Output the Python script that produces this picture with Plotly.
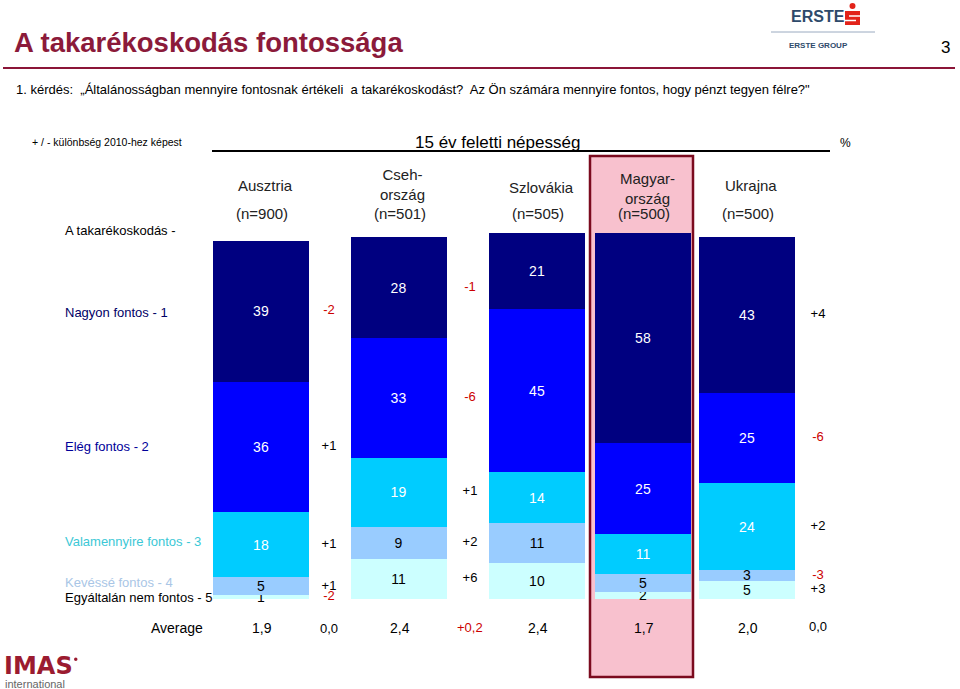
import numpy as np
import plotly.graph_objects as go

W, H = 960, 689

# ---------------- data ----------------
countries = ["Ausztria", "Csehország", "Szlovákia", "Magyarország", "Ukrajna"]
header_top = ["Ausztria", "Cseh-<br>ország", "Szlovákia", "Magyar-<br>ország", "Ukrajna"]
sample_n = ["(n=900)", "(n=501)", "(n=505)", "(n=500)", "(n=500)"]

categories = ["Nagyon fontos - 1", "Elég fontos - 2", "Valamennyire fontos - 3",
              "Kevéssé fontos - 4", "Egyáltalán nem fontos - 5"]

nagyon = [39, 28, 21, 58, 43]
eleg = [36, 33, 45, 25, 25]
valamennyire = [18, 19, 14, 11, 24]
kevesse = [5, 9, 11, 5, 3]
egyaltalan = [1, 11, 10, 2, 5]

averages = ["1,9", "2,4", "2,4", "1,7", "2,0"]

# changes vs 2010 (only for Ausztria, Csehország, Ukrajna)
change_countries = ["Ausztria", "Csehország", "Ukrajna"]
chg_nagyon = ["-2", "-1", "+4"]
chg_eleg = ["+1", "-6", "-6"]
chg_valamennyire = ["+1", "+1", "+2"]
chg_kevesse = ["+1", "+2", "-3"]
chg_egyaltalan = ["-2", "+6", "+3"]
chg_average = ["0,0", "+0,2", "0,0"]

# ---------------- layout helpers (positions / styles) ----------------
bar_x = [261, 398.5, 537, 643, 747]
chg_x = [329, 470, 818]
bar_w = 96
px_per_unit = 3.62
base_px = 599

colors = ["#000080", "#0000FF", "#00CCFF", "#99CCFF", "#CCFFFF"]
text_cols = ["white", "white", "white", "black", "black"]
label_cols = ["#000066", "#000099", "#3CC8D6", "#A9C6E6", "#000000"]
RED = "#CC0000"
FONT = "Arial, Liberation Sans, sans-serif"

def X(p):
    return p / W

def Y(p):
    return 1 - p / H

series = [nagyon, eleg, valamennyire, kevesse, egyaltalan]
chg_series = [chg_nagyon, chg_eleg, chg_valamennyire, chg_kevesse, chg_egyaltalan]
cidx = [countries.index(c) for c in change_countries]

fig = go.Figure()

# stacked from bottom: add last category first
for k in reversed(range(5)):
    vals = series[k]
    fig.add_trace(go.Bar(
        x=bar_x, y=vals, width=bar_w,
        marker=dict(color=colors[k], line=dict(width=0)),
        text=[str(v) for v in vals], textposition="inside",
        insidetextanchor="middle", textangle=0, constraintext="none",
        textfont=dict(family=FONT, size=14, color=text_cols[k]),
        hoverinfo="skip", showlegend=False, cliponaxis=False,
    ))

# change labels at the centre of each segment (from stacked data)
stack = np.array([egyaltalan, kevesse, valamennyire, eleg, nagyon], dtype=float)  # bottom -> top
bottoms = np.vstack([np.zeros(5), np.cumsum(stack, axis=0)[:-1]])
centres = bottoms + stack / 2  # rows bottom->top
for k in range(5):
    row = 4 - k
    ys = [centres[row, i] for i in cidx]
    txt = chg_series[k]
    fig.add_trace(go.Scatter(
        x=chg_x, y=ys, mode="text", text=txt,
        textfont=dict(family=FONT, size=13,
                      color=[RED if t.startswith("-") else "black" for t in txt]),
        hoverinfo="skip", showlegend=False, cliponaxis=False,
    ))

y_lo = (base_px - H) / px_per_unit
y_hi = base_px / px_per_unit

fig.update_layout(
    width=W, height=H, barmode="stack",
    margin=dict(l=0, r=0, t=0, b=0),
    paper_bgcolor="white", plot_bgcolor="rgba(0,0,0,0)",
    xaxis=dict(range=[0, W], visible=False, fixedrange=True),
    yaxis=dict(range=[y_lo, y_hi], visible=False, fixedrange=True),
    uniformtext=dict(mode="show", minsize=14),
    font=dict(family=FONT),
)

shapes = []
ann = []

def text(x, y, s, size=13, color="black", xanchor="center", bold=False, yanchor="middle", family=FONT):
    if bold:
        s = "<b>" + s + "</b>"
    ann.append(dict(x=X(x), y=Y(y), xref="paper", yref="paper", text=s,
                    showarrow=False, xanchor=xanchor, yanchor=yanchor,
                    font=dict(family=family, size=size, color=color)))

# highlight for Magyarország
shapes.append(dict(type="rect", xref="paper", yref="paper",
                   x0=X(590), x1=X(693), y0=Y(677), y1=Y(156),
                   fillcolor="#F8C1CE", line=dict(color="#7B0A1E", width=2.5),
                   layer="below"))

# title
text(12, 43, "A takarékoskodás fontossága", size=27.5, color="#8B1A3A", xanchor="left", bold=True)
text(952, 47, "3", size=17, xanchor="right")
shapes.append(dict(type="line", xref="paper", yref="paper", x0=X(3), x1=X(955),
                   y0=Y(68), y1=Y(68), line=dict(color="#8B1538", width=2)))
text(14, 89, "1. kérdés:  „Általánosságban mennyire fontosnak értékeli  a takarékoskodást?  "
     "Az Ön számára mennyire fontos, hogy pénzt tegyen félre?\"", size=13, xanchor="left")

# ERSTE logo
text(789, 16, "ERSTE", size=16, color="#2E4A6B", bold=True, xanchor="left")
shapes.append(dict(type="circle", xref="paper", yref="paper", x0=X(849.5), x1=X(855.5),
                   y0=Y(9), y1=Y(3), fillcolor="#E2231A", line=dict(width=0)))
shapes.append(dict(type="rect", xref="paper", yref="paper", x0=X(845), x1=X(860),
                   y0=Y(25), y1=Y(11), fillcolor="#E2231A", line=dict(width=0)))
shapes.append(dict(type="line", xref="paper", yref="paper", x0=X(849), x1=X(860),
                   y0=Y(16), y1=Y(16), line=dict(color="white", width=1.5)))
shapes.append(dict(type="line", xref="paper", yref="paper", x0=X(845), x1=X(856),
                   y0=Y(20.5), y1=Y(20.5), line=dict(color="white", width=1.5)))
shapes.append(dict(type="line", xref="paper", yref="paper", x0=X(771), x1=X(875),
                   y0=Y(32), y1=Y(32), line=dict(color="#9AAAC0", width=1)))
text(818, 45, "ERSTE GROUP", size=8, color="#2E4A6B", bold=True)

# header row
text(30, 142, "+ / - különbség 2010-hez képest", size=10.5, xanchor="left")
text(497, 142, "15 év feletti népesség", size=17)
shapes.append(dict(type="line", xref="paper", yref="paper", x0=X(212), x1=X(830),
                   y0=Y(151), y1=Y(151), line=dict(color="black", width=2)))
text(838, 143, "%", size=12, xanchor="left")

top_y = [185, 184, 187, 189, 185]
for i in range(5):
    text(bar_x[i] + 4, top_y[i], header_top[i], size=15, color="#222222")
    text(bar_x[i] + 1, 214, sample_n[i], size=15, color="#222222")

text(63, 230, "A takarékoskodás -", size=13, xanchor="left")

# category labels (left)
cat_y = [312, 446, 541, 582, 597]
for k in range(5):
    text(63, cat_y[k], categories[k], size=13, color=label_cols[k], xanchor="left")

# average row
text(205, 628, "Average", size=14, xanchor="right")
for i in range(5):
    text(bar_x[i] + 1, 628, averages[i], size=14)
avg_chg_y = [628, 627, 626]
for j in range(3):
    s = chg_average[j]
    text(chg_x[j], avg_chg_y[j], s, size=13, color=RED if s == "+0,2" else "black")

# IMAS logo
text(2, 666, "IMAS", size=24, color="#9B1B30", xanchor="left", bold=True, family="DejaVu Sans")
shapes.append(dict(type="circle", xref="paper", yref="paper", x0=X(74), x1=X(77.5),
                   y0=Y(661), y1=Y(657.5), fillcolor="#9B1B30", line=dict(width=0)))
text(3, 684, "international", size=11, color="#666666", xanchor="left")

fig.update_layout(shapes=shapes, annotations=ann)
fig.write_html("out.html")
